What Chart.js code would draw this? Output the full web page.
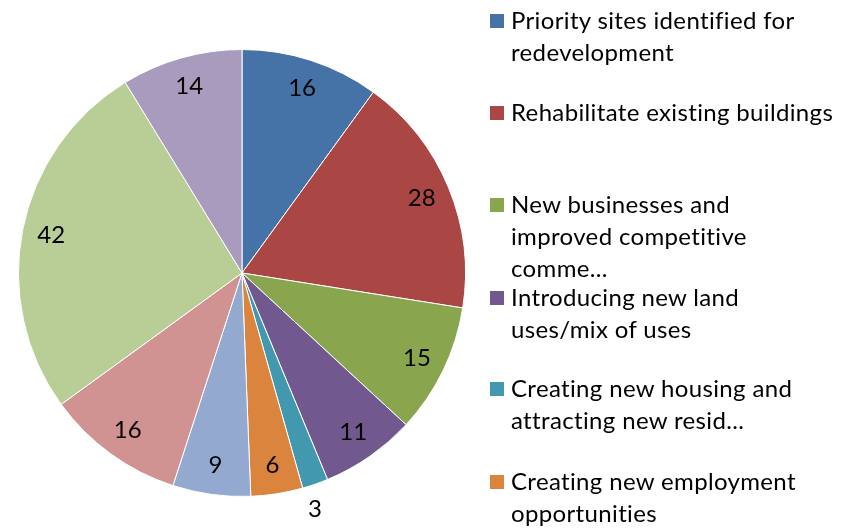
<!DOCTYPE html>
<html>
<head>
<meta charset="utf-8">
<script src="https://cdn.jsdelivr.net/npm/chart.js@4"></script>
<style>
  body { margin: 0; background: #fff; }
  #wrap { position: relative; width: 852px; height: 529px; }
  #c { position: absolute; left: 0; top: 0; }
  #legend { position: absolute; left: 490px; top: 0; font-family: Lato, "Open Sans", sans-serif; font-size: 24px; letter-spacing: 0.35px; font-variant-ligatures: none; color: #000; }
  .item { position: absolute; left: 0; width: 362px; line-height: 32px; white-space: nowrap; }
  .item span.box { position: absolute; left: 0; top: 10px; width: 14px; height: 14px; }
  .item div { margin-left: 21px; }
</style>
</head>
<body>
<div id="wrap">
  <canvas id="c" width="852" height="529"></canvas>
  <div id="legend"></div>
</div>
<script>
// categories (only the first six are shown in the legend of the original)
const categories = [
  ['Priority sites identified for', 'redevelopment'],
  ['Rehabilitate existing buildings'],
  ['New businesses and', 'improved competitive', 'comme...'],
  ['Introducing new land', 'uses/mix of uses'],
  ['Creating new housing and', 'attracting new resid...'],
  ['Creating new employment', 'opportunities'],
  ['Item 7'], ['Item 8'], ['Item 9'], ['Item 10']
];
const values = [16, 28, 15, 11, 3, 6, 9, 16, 42, 14];
const colors = ['#4572A7', '#AA4643', '#89A54E', '#71588F', '#4198AF',
                '#DB843D', '#93A9CF', '#D19392', '#B9CD96', '#A99BBD'];
const legendShown = 6;
const legendTops = [4, 96, 188, 281, 372, 465];

// data labels
const labelPlugin = {
  id: 'sliceLabels',
  afterDatasetsDraw(chart) {
    const ctx = chart.ctx;
    const meta = chart.getDatasetMeta(0);
    ctx.save();
    ctx.font = '24px Lato, "Open Sans", sans-serif';
    ctx.fillStyle = '#000';
    ctx.textAlign = 'center';
    ctx.textBaseline = 'middle';
    meta.data.forEach((arc, i) => {
      const p = arc.getProps(['x', 'y', 'startAngle', 'endAngle', 'outerRadius']);
      let mid = (p.startAngle + p.endAngle) / 2;
      let r = p.outerRadius * 0.87;
      if (values[i] < 5) { r = p.outerRadius + 24; mid += 0.035; }
      ctx.fillText(String(values[i]), p.x + Math.cos(mid) * r, p.y + Math.sin(mid) * r);
    });
    ctx.restore();
  }
};

new Chart(document.getElementById('c'), {
  type: 'pie',
  data: {
    labels: categories.map(c => c.join(' ')),
    datasets: [{
      data: values,
      backgroundColor: colors,
      borderColor: '#fff',
      borderWidth: 1
    }]
  },
  options: {
    responsive: false,
    animation: false,
    layout: { padding: { left: 18, right: 386, top: 49, bottom: 32 } },
    plugins: { legend: { display: false }, tooltip: { enabled: false } }
  },
  plugins: [labelPlugin]
});

// legend
const legend = document.getElementById('legend');
for (let i = 0; i < legendShown; i++) {
  const it = document.createElement('div');
  it.className = 'item';
  it.style.top = legendTops[i] + 'px';
  it.innerHTML = '<span class="box" style="background:' + colors[i] + '"></span><div>' +
    categories[i].join('<br>') + '</div>';
  legend.appendChild(it);
}
</script>
</body>
</html>
